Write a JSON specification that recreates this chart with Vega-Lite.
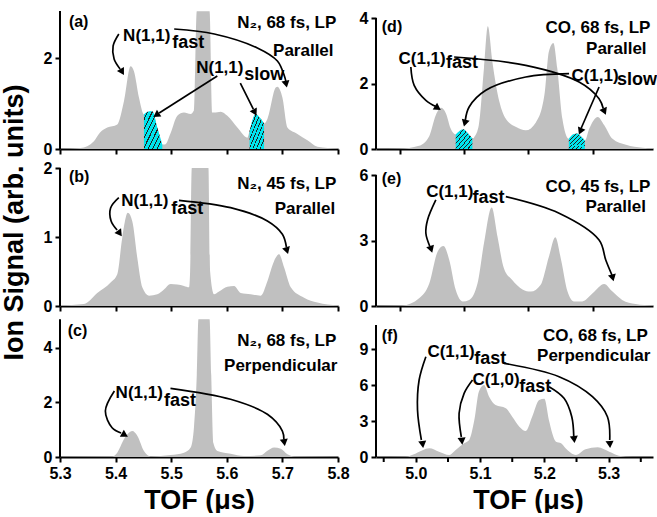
{
"$schema": "https://vega.github.io/schema/vega-lite/v6.json",
"padding": {"left": 0, "top": 10, "right": 0, "bottom": 0},
"background": "white",
"config": {
  "view": {"stroke": null},
  "font": "Liberation Sans",
  "axis": {"domainColor": "black", "domainWidth": 2, "tickColor": "black", "tickWidth": 2, "tickSize": 5, "labelFont": "Liberation Sans", "labelFontWeight": "bold", "labelFontSize": 16, "labelColor": "black", "labelFlush": false, "labelPadding": 3, "labelOverlap": false, "titleFont": "Liberation Sans", "titleFontWeight": "bold", "titleFontSize": 27, "titleColor": "black", "grid": false},
  "axisY": {"format": "d"},
  "text": {"font": "Liberation Sans", "fontWeight": "bold", "color": "black", "baseline": "alphabetic"}
},
"columns": 2,
"spacing": {"row": 13, "column": 38},
"bounds": "flush",
"datasets": {
  "spec": [
    {"p":"a","t":5.300,"v":0.00},{"p":"a","t":5.337,"v":0.02},{"p":"a","t":5.361,"v":0.17},{"p":"a","t":5.372,"v":0.36},{"p":"a","t":5.385,"v":0.47},{"p":"a","t":5.403,"v":0.54},{"p":"a","t":5.415,"v":1.05},{"p":"a","t":5.427,"v":1.82},{"p":"a","t":5.433,"v":1.71},{"p":"a","t":5.442,"v":1.13},{"p":"a","t":5.451,"v":0.76},{"p":"a","t":5.458,"v":0.82},{"p":"a","t":5.466,"v":0.83},{"p":"a","t":5.475,"v":0.47},{"p":"a","t":5.484,"v":0.10},{"p":"a","t":5.489,"v":0.10},{"p":"a","t":5.499,"v":0.35},{"p":"a","t":5.511,"v":0.73},{"p":"a","t":5.523,"v":0.80},{"p":"a","t":5.535,"v":0.77},{"p":"a","t":5.541,"v":0.85},{"p":"a","t":5.546,"v":3.03},{"p":"a","t":5.569,"v":3.03},{"p":"a","t":5.574,"v":0.80},{"p":"a","t":5.577,"v":0.80},{"p":"a","t":5.589,"v":0.82},{"p":"a","t":5.601,"v":0.73},{"p":"a","t":5.619,"v":0.47},{"p":"a","t":5.637,"v":0.25},{"p":"a","t":5.641,"v":0.40},{"p":"a","t":5.652,"v":0.77},{"p":"a","t":5.660,"v":0.68},{"p":"a","t":5.667,"v":0.56},{"p":"a","t":5.673,"v":0.66},{"p":"a","t":5.688,"v":1.35},{"p":"a","t":5.691,"v":1.37},{"p":"a","t":5.700,"v":1.13},{"p":"a","t":5.709,"v":0.47},{"p":"a","t":5.727,"v":0.33},{"p":"a","t":5.745,"v":0.19},{"p":"a","t":5.763,"v":0.05},{"p":"a","t":5.800,"v":0.01},
    {"p":"b","t":5.300,"v":0.01},{"p":"b","t":5.343,"v":0.03},{"p":"b","t":5.367,"v":0.19},{"p":"b","t":5.391,"v":0.34},{"p":"b","t":5.403,"v":0.46},{"p":"b","t":5.412,"v":0.99},{"p":"b","t":5.422,"v":1.35},{"p":"b","t":5.430,"v":1.23},{"p":"b","t":5.439,"v":0.70},{"p":"b","t":5.448,"v":0.27},{"p":"b","t":5.460,"v":0.15},{"p":"b","t":5.475,"v":0.17},{"p":"b","t":5.487,"v":0.24},{"p":"b","t":5.499,"v":0.32},{"p":"b","t":5.511,"v":0.31},{"p":"b","t":5.523,"v":0.29},{"p":"b","t":5.532,"v":0.27},{"p":"b","t":5.534,"v":0.50},{"p":"b","t":5.537,"v":2.0},{"p":"b","t":5.567,"v":2.0},{"p":"b","t":5.570,"v":0.50},{"p":"b","t":5.577,"v":0.17},{"p":"b","t":5.586,"v":0.21},{"p":"b","t":5.601,"v":0.28},{"p":"b","t":5.613,"v":0.29},{"p":"b","t":5.625,"v":0.19},{"p":"b","t":5.643,"v":0.17},{"p":"b","t":5.661,"v":0.15},{"p":"b","t":5.673,"v":0.36},{"p":"b","t":5.685,"v":0.65},{"p":"b","t":5.694,"v":0.75},{"p":"b","t":5.703,"v":0.56},{"p":"b","t":5.715,"v":0.27},{"p":"b","t":5.739,"v":0.12},{"p":"b","t":5.763,"v":0.05},{"p":"b","t":5.800,"v":0.01},
    {"p":"c","t":5.300,"v":0.00},{"p":"c","t":5.394,"v":0.02},{"p":"c","t":5.403,"v":0.16},{"p":"c","t":5.415,"v":0.65},{"p":"c","t":5.430,"v":0.95},{"p":"c","t":5.439,"v":0.78},{"p":"c","t":5.451,"v":0.22},{"p":"c","t":5.463,"v":0.02},{"p":"c","t":5.499,"v":0.07},{"p":"c","t":5.523,"v":0.16},{"p":"c","t":5.535,"v":0.35},{"p":"c","t":5.541,"v":1.10},{"p":"c","t":5.546,"v":3.0},{"p":"c","t":5.549,"v":5.05},{"p":"c","t":5.569,"v":5.05},{"p":"c","t":5.572,"v":3.0},{"p":"c","t":5.576,"v":0.50},{"p":"c","t":5.583,"v":0.22},{"p":"c","t":5.607,"v":0.12},{"p":"c","t":5.631,"v":0.04},{"p":"c","t":5.661,"v":0.06},{"p":"c","t":5.673,"v":0.23},{"p":"c","t":5.685,"v":0.35},{"p":"c","t":5.697,"v":0.30},{"p":"c","t":5.709,"v":0.10},{"p":"c","t":5.721,"v":0.02},{"p":"c","t":5.800,"v":0.00},
    {"p":"d","t":4.938,"v":0.00},{"p":"d","t":4.974,"v":0.01},{"p":"d","t":5.005,"v":0.10},{"p":"d","t":5.021,"v":0.40},{"p":"d","t":5.031,"v":1.03},{"p":"d","t":5.039,"v":1.26},{"p":"d","t":5.047,"v":1.08},{"p":"d","t":5.054,"v":0.63},{"p":"d","t":5.062,"v":0.44},{"p":"d","t":5.068,"v":0.55},{"p":"d","t":5.074,"v":0.60},{"p":"d","t":5.081,"v":0.48},{"p":"d","t":5.088,"v":0.32},{"p":"d","t":5.091,"v":0.37},{"p":"d","t":5.098,"v":0.73},{"p":"d","t":5.106,"v":2.47},{"p":"d","t":5.112,"v":3.75},{"p":"d","t":5.119,"v":2.67},{"p":"d","t":5.130,"v":1.44},{"p":"d","t":5.140,"v":0.92},{"p":"d","t":5.156,"v":0.67},{"p":"d","t":5.171,"v":0.57},{"p":"d","t":5.187,"v":0.82},{"p":"d","t":5.200,"v":1.65},{"p":"d","t":5.207,"v":2.98},{"p":"d","t":5.214,"v":3.24},{"p":"d","t":5.220,"v":2.47},{"p":"d","t":5.228,"v":0.92},{"p":"d","t":5.238,"v":0.31},{"p":"d","t":5.245,"v":0.45},{"p":"d","t":5.251,"v":0.47},{"p":"d","t":5.257,"v":0.38},{"p":"d","t":5.263,"v":0.26},{"p":"d","t":5.270,"v":0.63},{"p":"d","t":5.283,"v":0.98},{"p":"d","t":5.293,"v":0.73},{"p":"d","t":5.306,"v":0.31},{"p":"d","t":5.327,"v":0.13},{"p":"d","t":5.353,"v":0.04},{"p":"d","t":5.369,"v":0.02},
    {"p":"e","t":4.938,"v":0.00},{"p":"e","t":4.979,"v":0.02},{"p":"e","t":5.005,"v":0.35},{"p":"e","t":5.021,"v":1.04},{"p":"e","t":5.034,"v":2.50},{"p":"e","t":5.043,"v":2.75},{"p":"e","t":5.052,"v":2.11},{"p":"e","t":5.062,"v":0.74},{"p":"e","t":5.073,"v":0.21},{"p":"e","t":5.083,"v":0.28},{"p":"e","t":5.096,"v":1.04},{"p":"e","t":5.106,"v":2.87},{"p":"e","t":5.118,"v":4.51},{"p":"e","t":5.127,"v":3.18},{"p":"e","t":5.137,"v":1.73},{"p":"e","t":5.150,"v":1.19},{"p":"e","t":5.166,"v":0.76},{"p":"e","t":5.179,"v":0.66},{"p":"e","t":5.194,"v":0.96},{"p":"e","t":5.207,"v":2.26},{"p":"e","t":5.217,"v":3.15},{"p":"e","t":5.226,"v":2.11},{"p":"e","t":5.236,"v":0.66},{"p":"e","t":5.246,"v":0.21},{"p":"e","t":5.259,"v":0.21},{"p":"e","t":5.275,"v":0.58},{"p":"e","t":5.293,"v":1.01},{"p":"e","t":5.306,"v":0.66},{"p":"e","t":5.321,"v":0.28},{"p":"e","t":5.342,"v":0.09},{"p":"e","t":5.369,"v":0.02},
    {"p":"f","t":4.938,"v":0.00},{"p":"f","t":4.984,"v":0.02},{"p":"f","t":5.000,"v":0.30},{"p":"f","t":5.021,"v":0.72},{"p":"f","t":5.036,"v":0.44},{"p":"f","t":5.052,"v":0.17},{"p":"f","t":5.062,"v":0.58},{"p":"f","t":5.075,"v":1.14},{"p":"f","t":5.083,"v":1.42},{"p":"f","t":5.091,"v":3.08},{"p":"f","t":5.098,"v":5.44},{"p":"f","t":5.106,"v":6.00},{"p":"f","t":5.114,"v":5.03},{"p":"f","t":5.124,"v":4.33},{"p":"f","t":5.140,"v":4.06},{"p":"f","t":5.150,"v":3.36},{"p":"f","t":5.161,"v":2.53},{"p":"f","t":5.171,"v":2.17},{"p":"f","t":5.181,"v":3.36},{"p":"f","t":5.192,"v":4.75},{"p":"f","t":5.200,"v":4.85},{"p":"f","t":5.207,"v":3.08},{"p":"f","t":5.218,"v":1.28},{"p":"f","t":5.226,"v":1.14},{"p":"f","t":5.233,"v":0.72},{"p":"f","t":5.249,"v":0.17},{"p":"f","t":5.264,"v":0.64},{"p":"f","t":5.283,"v":0.81},{"p":"f","t":5.301,"v":0.44},{"p":"f","t":5.316,"v":0.11},{"p":"f","t":5.337,"v":0.00},{"p":"f","t":5.369,"v":0.00}
  ],
  "minor": [{"t": 4.95}, {"t": 5.05}, {"t": 5.15}, {"t": 5.25}, {"t": 5.35}],
  "cyan": [
    {"p":"a","seg":"1","t":5.451,"v":0.76},{"p":"a","seg":"1","t":5.458,"v":0.82},{"p":"a","seg":"1","t":5.466,"v":0.83},{"p":"a","seg":"1","t":5.475,"v":0.47},{"p":"a","seg":"1","t":5.484,"v":0.10},
    {"p":"a","seg":"2","t":5.641,"v":0.40},{"p":"a","seg":"2","t":5.652,"v":0.77},{"p":"a","seg":"2","t":5.660,"v":0.68},{"p":"a","seg":"2","t":5.667,"v":0.56},
    {"p":"d","seg":"1","t":5.062,"v":0.44},{"p":"d","seg":"1","t":5.068,"v":0.55},{"p":"d","seg":"1","t":5.074,"v":0.60},{"p":"d","seg":"1","t":5.081,"v":0.48},{"p":"d","seg":"1","t":5.088,"v":0.32},
    {"p":"d","seg":"2","t":5.238,"v":0.31},{"p":"d","seg":"2","t":5.245,"v":0.45},{"p":"d","seg":"2","t":5.251,"v":0.47},{"p":"d","seg":"2","t":5.257,"v":0.38},{"p":"d","seg":"2","t":5.263,"v":0.26}
  ],
  "arrows": [
    {"p":"a","id":"a1","i":0,"t":5.4058,"v":2.527},{"p":"a","id":"a1","i":1,"t":5.3955,"v":2.264},{"p":"a","id":"a1","i":2,"t":5.3973,"v":1.978},{"p":"a","id":"a1","i":3,"t":5.4081,"v":1.758},
    {"p":"a","id":"a2","i":0,"t":5.5054,"v":2.637},{"p":"a","id":"a2","i":1,"t":5.5775,"v":2.527},{"p":"a","id":"a2","i":2,"t":5.655,"v":2.22},{"p":"a","id":"a2","i":3,"t":5.691,"v":1.934},{"p":"a","id":"a2","i":4,"t":5.7036,"v":1.604},{"p":"a","id":"a2","i":5,"t":5.7063,"v":1.48},
    {"p":"a","id":"a3","i":0,"t":5.5829,"v":1.604},{"p":"a","id":"a3","i":1,"t":5.4784,"v":0.791},
    {"p":"a","id":"a4","i":0,"t":5.6243,"v":1.45},{"p":"a","id":"a4","i":1,"t":5.6477,"v":0.879},
    {"p":"b","id":"b1","i":0,"t":5.4058,"v":1.569},{"p":"b","id":"b1","i":1,"t":5.391,"v":1.42},{"p":"b","id":"b1","i":2,"t":5.3919,"v":1.232},{"p":"b","id":"b1","i":3,"t":5.4027,"v":1.101},
    {"p":"b","id":"b2","i":0,"t":5.5139,"v":1.532},{"p":"b","id":"b2","i":1,"t":5.6068,"v":1.425},{"p":"b","id":"b2","i":2,"t":5.673,"v":1.232},{"p":"b","id":"b2","i":3,"t":5.7,"v":1.039},{"p":"b","id":"b2","i":4,"t":5.7072,"v":0.855},
    {"p":"c","id":"c1","i":0,"t":5.3978,"v":2.418},{"p":"c","id":"c1","i":1,"t":5.3816,"v":1.685},{"p":"c","id":"c1","i":2,"t":5.3937,"v":1.073},{"p":"c","id":"c1","i":3,"t":5.4099,"v":0.879},
    {"p":"c","id":"c2","i":0,"t":5.4987,"v":2.516},{"p":"c","id":"c2","i":1,"t":5.6068,"v":2.114},{"p":"c","id":"c2","i":2,"t":5.673,"v":1.564},{"p":"c","id":"c2","i":3,"t":5.7,"v":0.952},{"p":"c","id":"c2","i":4,"t":5.7027,"v":0.641},
    {"p":"d","id":"d1","i":0,"t":4.9922,"v":2.504},{"p":"d","id":"d1","i":1,"t":4.9974,"v":1.945},{"p":"d","id":"d1","i":2,"t":5.0156,"v":1.487},{"p":"d","id":"d1","i":3,"t":5.0311,"v":1.298},
    {"p":"d","id":"d2","i":0,"t":5.0596,"v":2.809},{"p":"d","id":"d2","i":1,"t":5.1711,"v":2.556},{"p":"d","id":"d2","i":2,"t":5.254,"v":2.046},{"p":"d","id":"d2","i":3,"t":5.2851,"v":1.536},{"p":"d","id":"d2","i":4,"t":5.2916,"v":1.237},
    {"p":"d","id":"d3","i":0,"t":5.2384,"v":2.299},{"p":"d","id":"d3","i":1,"t":5.1711,"v":2.198},{"p":"d","id":"d3","i":2,"t":5.1089,"v":1.792},{"p":"d","id":"d3","i":3,"t":5.0829,"v":1.282},{"p":"d","id":"d3","i":4,"t":5.077,"v":0.885},
    {"p":"d","id":"d4","i":0,"t":5.2851,"v":1.893},{"p":"d","id":"d4","i":1,"t":5.2574,"v":0.641},
    {"p":"e","id":"e1","i":0,"t":5.0311,"v":4.856},{"p":"e","id":"e1","i":1,"t":5.0182,"v":3.94},{"p":"e","id":"e1","i":2,"t":5.0156,"v":3.33},{"p":"e","id":"e1","i":3,"t":5.0218,"v":2.726},
    {"p":"e","id":"e2","i":0,"t":5.14,"v":5.007},{"p":"e","id":"e2","i":1,"t":5.2229,"v":4.246},{"p":"e","id":"e2","i":2,"t":5.2851,"v":3.023},{"p":"e","id":"e2","i":3,"t":5.2955,"v":2.107},{"p":"e","id":"e2","i":4,"t":5.3051,"v":1.42},
    {"p":"f","id":"f1","i":0,"t":5.0156,"v":8.36},{"p":"f","id":"f1","i":1,"t":5.0051,"v":6.417},{"p":"f","id":"f1","i":2,"t":5.0026,"v":3.917},{"p":"f","id":"f1","i":3,"t":5.0086,"v":1.417},
    {"p":"f","id":"f2","i":0,"t":5.1373,"v":7.808},{"p":"f","id":"f2","i":1,"t":5.2229,"v":6.692},{"p":"f","id":"f2","i":2,"t":5.2748,"v":5.025},{"p":"f","id":"f2","i":3,"t":5.2981,"v":3.358},{"p":"f","id":"f2","i":4,"t":5.3017,"v":1.417},
    {"p":"f","id":"f3","i":0,"t":5.0882,"v":6.417},{"p":"f","id":"f3","i":1,"t":5.0751,"v":5.308},{"p":"f","id":"f3","i":2,"t":5.0673,"v":3.642},{"p":"f","id":"f3","i":3,"t":5.0708,"v":1.667},
    {"p":"f","id":"f4","i":0,"t":5.2073,"v":5.858},{"p":"f","id":"f4","i":1,"t":5.2306,"v":4.892},{"p":"f","id":"f4","i":2,"t":5.2426,"v":3.358},{"p":"f","id":"f4","i":3,"t":5.2457,"v":1.75}
  ],
  "heads": [
    {"p":"a","t":5.4108,"v":1.714,"ang":150},{"p":"a","t":5.7063,"v":1.45,"ang":168},{"p":"a","t":5.4748,"v":0.758,"ang":237},{"p":"a","t":5.6495,"v":0.824,"ang":153},
    {"p":"b","t":5.4063,"v":1.065,"ang":145},{"p":"b","t":5.7077,"v":0.819,"ang":163},
    {"p":"c","t":5.4148,"v":0.824,"ang":120},{"p":"c","t":5.7031,"v":0.568,"ang":171},
    {"p":"d","t":5.0327,"v":1.267,"ang":123},{"p":"d","t":5.2928,"v":1.176,"ang":157},{"p":"d","t":5.0767,"v":0.824,"ang":195},{"p":"d","t":5.2566,"v":0.571,"ang":203},
    {"p":"e","t":5.0233,"v":2.643,"ang":162},{"p":"e","t":5.3059,"v":1.342,"ang":166},
    {"p":"f","t":5.0104,"v":1.142,"ang":172},{"p":"f","t":5.3017,"v":1.142,"ang":175},{"p":"f","t":5.0715,"v":1.417,"ang":174},{"p":"f","t":5.2462,"v":1.558,"ang":174}
  ],
  "labels": [
    {"p":"a","k":"tag","t":5.316,"v":2.68,"s":"(a)"},{"p":"a","k":"cond","t":5.797,"v":2.67,"s":"N₂, 68 fs, LP"},{"p":"a","k":"cond","t":5.792,"v":2.04,"s":"Parallel"},{"p":"a","k":"big","t":5.4135,"v":2.37,"s":"N(1,1)"},{"p":"a","k":"sub","t":5.502,"v":2.23,"s":"fast"},{"p":"a","k":"big","t":5.545,"v":1.67,"s":"N(1,1)"},{"p":"a","k":"sub","t":5.6315,"v":1.52,"s":"slow"},
    {"p":"b","k":"tag","t":5.316,"v":1.79,"s":"(b)"},{"p":"b","k":"cond","t":5.797,"v":1.69,"s":"N₂, 45 fs, LP"},{"p":"b","k":"cond","t":5.795,"v":1.34,"s":"Parallel"},{"p":"b","k":"big","t":5.41,"v":1.45,"s":"N(1,1)"},{"p":"b","k":"sub","t":5.5,"v":1.33,"s":"fast"},
    {"p":"c","k":"tag","t":5.314,"v":4.43,"s":"(c)"},{"p":"c","k":"cond","t":5.797,"v":4.07,"s":"N₂, 68 fs, LP"},{"p":"c","k":"cond","t":5.799,"v":3.15,"s":"Perpendicular"},{"p":"c","k":"big","t":5.4,"v":2.15,"s":"N(1,1)"},{"p":"c","k":"sub","t":5.487,"v":1.87,"s":"fast"},
    {"p":"d","k":"tag","t":4.947,"v":3.57,"s":"(d)"},{"p":"d","k":"cond","t":5.365,"v":3.54,"s":"CO, 68 fs, LP"},{"p":"d","k":"cond","t":5.359,"v":2.91,"s":"Parallel"},{"p":"d","k":"big","t":4.973,"v":2.6,"s":"C(1,1)"},{"p":"d","k":"sub","t":5.047,"v":2.47,"s":"fast"},{"p":"d","k":"big","t":5.242,"v":2.08,"s":"C(1,1)"},{"p":"d","k":"sub","t":5.313,"v":1.94,"s":"slow"},
    {"p":"e","k":"tag","t":4.947,"v":5.59,"s":"(e)"},{"p":"e","k":"cond","t":5.365,"v":5.24,"s":"CO, 45 fs, LP"},{"p":"e","k":"cond","t":5.358,"v":4.32,"s":"Parallel"},{"p":"e","k":"big","t":5.016,"v":5.0,"s":"C(1,1)"},{"p":"e","k":"sub","t":5.088,"v":4.7,"s":"fast"},
    {"p":"f","k":"tag","t":4.947,"v":9.67,"s":"(f)"},{"p":"f","k":"cond","t":5.361,"v":9.67,"s":"CO, 68 fs, LP"},{"p":"f","k":"cond","t":5.365,"v":8.03,"s":"Perpendicular"},{"p":"f","k":"big","t":5.018,"v":8.36,"s":"C(1,1)"},{"p":"f","k":"sub","t":5.091,"v":7.75,"s":"fast"},{"p":"f","k":"big","t":5.088,"v":6.0,"s":"C(1,0)"},{"p":"f","k":"sub","t":5.161,"v":5.44,"s":"fast"}
  ]
},
"concat": [
  {"width": 278, "height": 138, "layer": [
    {"data": {"name": "spec"}, "transform": [{"filter": "datum.p==='a'"}], "mark": {"type": "area", "interpolate": "monotone", "color": "#c0c0c0", "clip": true},
     "encoding": {"x": {"field": "t", "type": "quantitative", "scale": {"domain": [5.3, 5.8], "nice": false, "zero": false}, "axis": {"values": [5.3, 5.4, 5.5, 5.6, 5.7, 5.8], "labels": false, "title": null}},
                  "y": {"field": "v", "type": "quantitative", "stack": null, "scale": {"domain": [0, 3.033], "nice": false}, "axis": {"values": [0, 2], "domain": false, "title": null}}}},
    {"data": {"name": "cyan"}, "transform": [{"filter": "datum.p==='a'"}], "mark": {"type": "area", "interpolate": "monotone", "clip": true, "fill": {"gradient": "linear", "x1": 0, "y1": 0, "x2": 1, "y2": 1, "stops": [{"offset":0,"color":"#00e5ee"},{"offset":0.095,"color":"#00e5ee"},{"offset":0.095,"color":"#222222"},{"offset":0.125,"color":"#222222"},{"offset":0.125,"color":"#00e5ee"},{"offset":0.22,"color":"#00e5ee"},{"offset":0.22,"color":"#222222"},{"offset":0.25,"color":"#222222"},{"offset":0.25,"color":"#00e5ee"},{"offset":0.345,"color":"#00e5ee"},{"offset":0.345,"color":"#222222"},{"offset":0.375,"color":"#222222"},{"offset":0.375,"color":"#00e5ee"},{"offset":0.47,"color":"#00e5ee"},{"offset":0.47,"color":"#222222"},{"offset":0.5,"color":"#222222"},{"offset":0.5,"color":"#00e5ee"},{"offset":0.595,"color":"#00e5ee"},{"offset":0.595,"color":"#222222"},{"offset":0.625,"color":"#222222"},{"offset":0.625,"color":"#00e5ee"},{"offset":0.72,"color":"#00e5ee"},{"offset":0.72,"color":"#222222"},{"offset":0.75,"color":"#222222"},{"offset":0.75,"color":"#00e5ee"},{"offset":0.845,"color":"#00e5ee"},{"offset":0.845,"color":"#222222"},{"offset":0.875,"color":"#222222"},{"offset":0.875,"color":"#00e5ee"},{"offset":1,"color":"#00e5ee"}]}},
     "encoding": {"x": {"field": "t", "type": "quantitative"}, "y": {"field": "v", "type": "quantitative", "stack": null}, "detail": {"field": "seg"}}},
    {"data": {"values": [{}]}, "mark": {"type": "rule", "color": "black", "strokeWidth": 2}, "encoding": {"x": {"datum": 5.3, "type": "quantitative"}, "y": {"datum": 0, "type": "quantitative"}, "y2": {"datum": 3.033}}},
    {"data": {"name": "arrows"}, "transform": [{"filter": "datum.p==='a'"}], "mark": {"type": "line", "interpolate": "catmull-rom", "color": "black", "strokeWidth": 1.7}, "encoding": {"x": {"field": "t", "type": "quantitative"}, "y": {"field": "v", "type": "quantitative"}, "detail": {"field": "id"}, "order": {"field": "i"}}},
    {"data": {"name": "heads"}, "transform": [{"filter": "datum.p==='a'"}], "mark": {"type": "point", "shape": "triangle", "filled": true, "color": "black", "opacity": 1, "size": 65}, "encoding": {"x": {"field": "t", "type": "quantitative"}, "y": {"field": "v", "type": "quantitative"}, "angle": {"field": "ang", "type": "quantitative", "scale": null}}},
    {"data": {"name": "labels"}, "transform": [{"filter": "datum.p==='a' && datum.k==='cond'"}], "mark": {"type": "text", "align": "right", "fontSize": 17}, "encoding": {"x": {"field": "t", "type": "quantitative"}, "y": {"field": "v", "type": "quantitative"}, "text": {"field": "s"}}},
    {"data": {"name": "labels"}, "transform": [{"filter": "datum.p==='a' && datum.k!=='cond'"}], "mark": {"type": "text", "align": "left"}, "encoding": {"x": {"field": "t", "type": "quantitative"}, "y": {"field": "v", "type": "quantitative"}, "text": {"field": "s"}, "size": {"field": "k", "type": "ordinal", "scale": {"domain": ["tag", "big", "sub"], "range": [16, 18, 15]}, "legend": null}}}
  ]},
  {"width": 277, "height": 138, "layer": [
    {"data": {"name": "spec"}, "transform": [{"filter": "datum.p==='d'"}], "mark": {"type": "area", "interpolate": "monotone", "color": "#c0c0c0", "clip": true},
     "encoding": {"x": {"field": "t", "type": "quantitative", "scale": {"domain": [4.938, 5.369], "nice": false, "zero": false}, "axis": {"values": [4.975, 5.025, 5.075, 5.125, 5.175, 5.225, 5.275, 5.325], "labels": false, "title": null}},
                  "y": {"field": "v", "type": "quantitative", "stack": null, "scale": {"domain": [0, 4.214], "nice": false}, "axis": {"values": [0, 2, 4], "domain": false, "title": null}}}},
    {"data": {"name": "cyan"}, "transform": [{"filter": "datum.p==='d'"}], "mark": {"type": "area", "interpolate": "monotone", "clip": true, "fill": {"gradient": "linear", "x1": 0, "y1": 0, "x2": 1, "y2": 1, "stops": [{"offset":0,"color":"#00e5ee"},{"offset":0.095,"color":"#00e5ee"},{"offset":0.095,"color":"#222222"},{"offset":0.125,"color":"#222222"},{"offset":0.125,"color":"#00e5ee"},{"offset":0.22,"color":"#00e5ee"},{"offset":0.22,"color":"#222222"},{"offset":0.25,"color":"#222222"},{"offset":0.25,"color":"#00e5ee"},{"offset":0.345,"color":"#00e5ee"},{"offset":0.345,"color":"#222222"},{"offset":0.375,"color":"#222222"},{"offset":0.375,"color":"#00e5ee"},{"offset":0.47,"color":"#00e5ee"},{"offset":0.47,"color":"#222222"},{"offset":0.5,"color":"#222222"},{"offset":0.5,"color":"#00e5ee"},{"offset":0.595,"color":"#00e5ee"},{"offset":0.595,"color":"#222222"},{"offset":0.625,"color":"#222222"},{"offset":0.625,"color":"#00e5ee"},{"offset":0.72,"color":"#00e5ee"},{"offset":0.72,"color":"#222222"},{"offset":0.75,"color":"#222222"},{"offset":0.75,"color":"#00e5ee"},{"offset":0.845,"color":"#00e5ee"},{"offset":0.845,"color":"#222222"},{"offset":0.875,"color":"#222222"},{"offset":0.875,"color":"#00e5ee"},{"offset":1,"color":"#00e5ee"}]}},
     "encoding": {"x": {"field": "t", "type": "quantitative"}, "y": {"field": "v", "type": "quantitative", "stack": null}, "detail": {"field": "seg"}}},
    {"data": {"values": [{}]}, "mark": {"type": "rule", "color": "black", "strokeWidth": 2}, "encoding": {"x": {"datum": 4.938, "type": "quantitative"}, "y": {"datum": 0, "type": "quantitative"}, "y2": {"datum": 4}}},
    {"data": {"name": "arrows"}, "transform": [{"filter": "datum.p==='d'"}], "mark": {"type": "line", "interpolate": "catmull-rom", "color": "black", "strokeWidth": 1.7}, "encoding": {"x": {"field": "t", "type": "quantitative"}, "y": {"field": "v", "type": "quantitative"}, "detail": {"field": "id"}, "order": {"field": "i"}}},
    {"data": {"name": "heads"}, "transform": [{"filter": "datum.p==='d'"}], "mark": {"type": "point", "shape": "triangle", "filled": true, "color": "black", "opacity": 1, "size": 65}, "encoding": {"x": {"field": "t", "type": "quantitative"}, "y": {"field": "v", "type": "quantitative"}, "angle": {"field": "ang", "type": "quantitative", "scale": null}}},
    {"data": {"name": "labels"}, "transform": [{"filter": "datum.p==='d' && datum.k==='cond'"}], "mark": {"type": "text", "align": "right", "fontSize": 17}, "encoding": {"x": {"field": "t", "type": "quantitative"}, "y": {"field": "v", "type": "quantitative"}, "text": {"field": "s"}}},
    {"data": {"name": "labels"}, "transform": [{"filter": "datum.p==='d' && datum.k!=='cond'"}], "mark": {"type": "text", "align": "left"}, "encoding": {"x": {"field": "t", "type": "quantitative"}, "y": {"field": "v", "type": "quantitative"}, "text": {"field": "s"}, "size": {"field": "k", "type": "ordinal", "scale": {"domain": ["tag", "big", "sub"], "range": [16, 18, 15]}, "legend": null}}}
  ]},
  {"width": 278, "height": 144, "layer": [
    {"data": {"name": "spec"}, "transform": [{"filter": "datum.p==='b'"}], "mark": {"type": "area", "interpolate": "monotone", "color": "#c0c0c0", "clip": true},
     "encoding": {"x": {"field": "t", "type": "quantitative", "scale": {"domain": [5.3, 5.8], "nice": false, "zero": false}, "axis": {"values": [5.3, 5.4, 5.5, 5.6, 5.7, 5.8], "labels": false, "title": null}},
                  "y": {"field": "v", "type": "quantitative", "stack": null, "scale": {"domain": [0, 2.087], "nice": false}, "axis": {"values": [0, 1, 2], "domain": false, "title": "Ion Signal (arb. units)", "titleY": 60, "titlePadding": 15}}}},
    {"data": {"values": [{}]}, "mark": {"type": "rule", "color": "black", "strokeWidth": 2}, "encoding": {"x": {"datum": 5.3, "type": "quantitative"}, "y": {"datum": 0, "type": "quantitative"}, "y2": {"datum": 2}}},
    {"data": {"name": "arrows"}, "transform": [{"filter": "datum.p==='b'"}], "mark": {"type": "line", "interpolate": "catmull-rom", "color": "black", "strokeWidth": 1.7}, "encoding": {"x": {"field": "t", "type": "quantitative"}, "y": {"field": "v", "type": "quantitative"}, "detail": {"field": "id"}, "order": {"field": "i"}}},
    {"data": {"name": "heads"}, "transform": [{"filter": "datum.p==='b'"}], "mark": {"type": "point", "shape": "triangle", "filled": true, "color": "black", "opacity": 1, "size": 65}, "encoding": {"x": {"field": "t", "type": "quantitative"}, "y": {"field": "v", "type": "quantitative"}, "angle": {"field": "ang", "type": "quantitative", "scale": null}}},
    {"data": {"name": "labels"}, "transform": [{"filter": "datum.p==='b' && datum.k==='cond'"}], "mark": {"type": "text", "align": "right", "fontSize": 17}, "encoding": {"x": {"field": "t", "type": "quantitative"}, "y": {"field": "v", "type": "quantitative"}, "text": {"field": "s"}}},
    {"data": {"name": "labels"}, "transform": [{"filter": "datum.p==='b' && datum.k!=='cond'"}], "mark": {"type": "text", "align": "left"}, "encoding": {"x": {"field": "t", "type": "quantitative"}, "y": {"field": "v", "type": "quantitative"}, "text": {"field": "s"}, "size": {"field": "k", "type": "ordinal", "scale": {"domain": ["tag", "big", "sub"], "range": [16, 18, 15]}, "legend": null}}}
  ]},
  {"width": 277, "height": 144, "layer": [
    {"data": {"name": "spec"}, "transform": [{"filter": "datum.p==='e'"}], "mark": {"type": "area", "interpolate": "monotone", "color": "#c0c0c0", "clip": true},
     "encoding": {"x": {"field": "t", "type": "quantitative", "scale": {"domain": [4.938, 5.369], "nice": false, "zero": false}, "axis": {"values": [4.975, 5.025, 5.075, 5.125, 5.175, 5.225, 5.275, 5.325], "labels": false, "title": null}},
                  "y": {"field": "v", "type": "quantitative", "stack": null, "scale": {"domain": [0, 6.596], "nice": false}, "axis": {"values": [0, 3, 6], "domain": false, "title": null}}}},
    {"data": {"values": [{}]}, "mark": {"type": "rule", "color": "black", "strokeWidth": 2}, "encoding": {"x": {"datum": 4.938, "type": "quantitative"}, "y": {"datum": 0, "type": "quantitative"}, "y2": {"datum": 6}}},
    {"data": {"name": "arrows"}, "transform": [{"filter": "datum.p==='e'"}], "mark": {"type": "line", "interpolate": "catmull-rom", "color": "black", "strokeWidth": 1.7}, "encoding": {"x": {"field": "t", "type": "quantitative"}, "y": {"field": "v", "type": "quantitative"}, "detail": {"field": "id"}, "order": {"field": "i"}}},
    {"data": {"name": "heads"}, "transform": [{"filter": "datum.p==='e'"}], "mark": {"type": "point", "shape": "triangle", "filled": true, "color": "black", "opacity": 1, "size": 65}, "encoding": {"x": {"field": "t", "type": "quantitative"}, "y": {"field": "v", "type": "quantitative"}, "angle": {"field": "ang", "type": "quantitative", "scale": null}}},
    {"data": {"name": "labels"}, "transform": [{"filter": "datum.p==='e' && datum.k==='cond'"}], "mark": {"type": "text", "align": "right", "fontSize": 17}, "encoding": {"x": {"field": "t", "type": "quantitative"}, "y": {"field": "v", "type": "quantitative"}, "text": {"field": "s"}}},
    {"data": {"name": "labels"}, "transform": [{"filter": "datum.p==='e' && datum.k!=='cond'"}], "mark": {"type": "text", "align": "left"}, "encoding": {"x": {"field": "t", "type": "quantitative"}, "y": {"field": "v", "type": "quantitative"}, "text": {"field": "s"}, "size": {"field": "k", "type": "ordinal", "scale": {"domain": ["tag", "big", "sub"], "range": [16, 18, 15]}, "legend": null}}}
  ]},
  {"width": 278, "height": 138, "layer": [
    {"data": {"name": "spec"}, "transform": [{"filter": "datum.p==='c'"}], "mark": {"type": "area", "interpolate": "monotone", "color": "#c0c0c0", "clip": true},
     "encoding": {"x": {"field": "t", "type": "quantitative", "scale": {"domain": [5.3, 5.8], "nice": false, "zero": false}, "axis": {"values": [5.3, 5.4, 5.5, 5.6, 5.7, 5.8], "format": ".1f", "title": "TOF (μs)", "titlePadding": 6}},
                  "y": {"field": "v", "type": "quantitative", "stack": null, "scale": {"domain": [0, 5.055], "nice": false}, "axis": {"values": [0, 2, 4], "domain": false, "title": null}}}},
    {"data": {"values": [{}]}, "mark": {"type": "rule", "color": "black", "strokeWidth": 2}, "encoding": {"x": {"datum": 5.3, "type": "quantitative"}, "y": {"datum": 0, "type": "quantitative"}, "y2": {"datum": 5.05}}},
    {"data": {"name": "arrows"}, "transform": [{"filter": "datum.p==='c'"}], "mark": {"type": "line", "interpolate": "catmull-rom", "color": "black", "strokeWidth": 1.7}, "encoding": {"x": {"field": "t", "type": "quantitative"}, "y": {"field": "v", "type": "quantitative"}, "detail": {"field": "id"}, "order": {"field": "i"}}},
    {"data": {"name": "heads"}, "transform": [{"filter": "datum.p==='c'"}], "mark": {"type": "point", "shape": "triangle", "filled": true, "color": "black", "opacity": 1, "size": 65}, "encoding": {"x": {"field": "t", "type": "quantitative"}, "y": {"field": "v", "type": "quantitative"}, "angle": {"field": "ang", "type": "quantitative", "scale": null}}},
    {"data": {"name": "labels"}, "transform": [{"filter": "datum.p==='c' && datum.k==='cond'"}], "mark": {"type": "text", "align": "right", "fontSize": 17}, "encoding": {"x": {"field": "t", "type": "quantitative"}, "y": {"field": "v", "type": "quantitative"}, "text": {"field": "s"}}},
    {"data": {"name": "labels"}, "transform": [{"filter": "datum.p==='c' && datum.k!=='cond'"}], "mark": {"type": "text", "align": "left"}, "encoding": {"x": {"field": "t", "type": "quantitative"}, "y": {"field": "v", "type": "quantitative"}, "text": {"field": "s"}, "size": {"field": "k", "type": "ordinal", "scale": {"domain": ["tag", "big", "sub"], "range": [16, 18, 15]}, "legend": null}}}
  ]},
  {"width": 277, "height": 138, "layer": [
    {"data": {"name": "spec"}, "transform": [{"filter": "datum.p==='f'"}], "mark": {"type": "area", "interpolate": "monotone", "color": "#c0c0c0", "clip": true},
     "encoding": {"x": {"field": "t", "type": "quantitative", "scale": {"domain": [4.938, 5.369], "nice": false, "zero": false}, "axis": {"values": [5.0, 5.1, 5.2, 5.3], "format": ".1f", "title": "TOF (μs)", "titlePadding": 6, "titleX": 152}},
                  "y": {"field": "v", "type": "quantitative", "stack": null, "scale": {"domain": [0, 11.5], "nice": false}, "axis": {"values": [0, 3, 6, 9], "domain": false, "title": null}}}},
    {"data": {"name": "minor"}, "mark": {"type": "rule", "color": "black", "strokeWidth": 2, "y2Offset": 5}, "encoding": {"x": {"field": "t", "type": "quantitative"}, "y": {"datum": 0, "type": "quantitative"}, "y2": {"datum": 0}}},
    {"data": {"values": [{}]}, "mark": {"type": "rule", "color": "black", "strokeWidth": 2}, "encoding": {"x": {"datum": 4.938, "type": "quantitative"}, "y": {"datum": 0, "type": "quantitative"}, "y2": {"datum": 11}}},
    {"data": {"name": "arrows"}, "transform": [{"filter": "datum.p==='f'"}], "mark": {"type": "line", "interpolate": "catmull-rom", "color": "black", "strokeWidth": 1.7}, "encoding": {"x": {"field": "t", "type": "quantitative"}, "y": {"field": "v", "type": "quantitative"}, "detail": {"field": "id"}, "order": {"field": "i"}}},
    {"data": {"name": "heads"}, "transform": [{"filter": "datum.p==='f'"}], "mark": {"type": "point", "shape": "triangle", "filled": true, "color": "black", "opacity": 1, "size": 65}, "encoding": {"x": {"field": "t", "type": "quantitative"}, "y": {"field": "v", "type": "quantitative"}, "angle": {"field": "ang", "type": "quantitative", "scale": null}}},
    {"data": {"name": "labels"}, "transform": [{"filter": "datum.p==='f' && datum.k==='cond'"}], "mark": {"type": "text", "align": "right", "fontSize": 17}, "encoding": {"x": {"field": "t", "type": "quantitative"}, "y": {"field": "v", "type": "quantitative"}, "text": {"field": "s"}}},
    {"data": {"name": "labels"}, "transform": [{"filter": "datum.p==='f' && datum.k!=='cond'"}], "mark": {"type": "text", "align": "left"}, "encoding": {"x": {"field": "t", "type": "quantitative"}, "y": {"field": "v", "type": "quantitative"}, "text": {"field": "s"}, "size": {"field": "k", "type": "ordinal", "scale": {"domain": ["tag", "big", "sub"], "range": [16, 18, 15]}, "legend": null}}}
  ]}
]
}
